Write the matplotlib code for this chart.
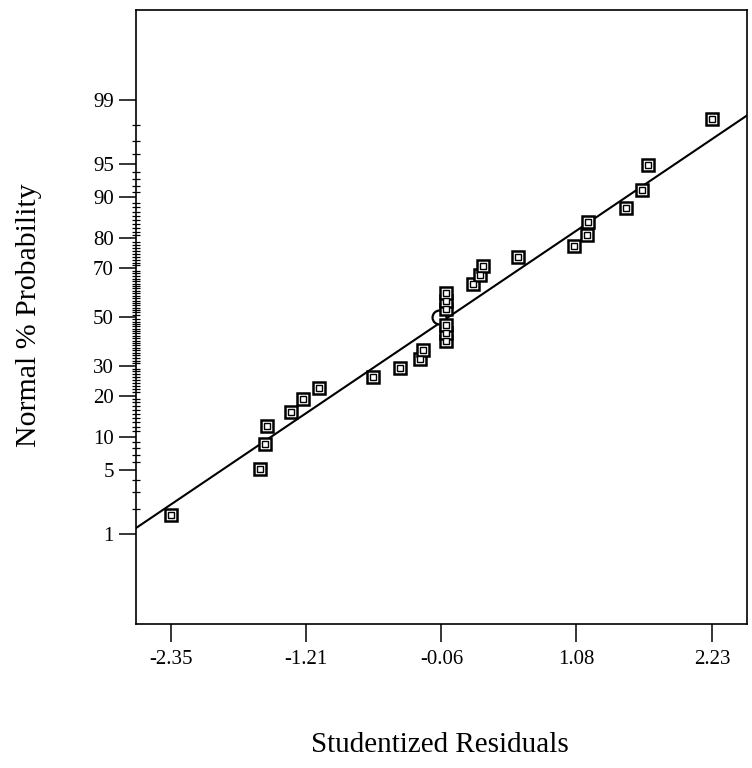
import matplotlib
matplotlib.use("Agg")
import matplotlib.pyplot as plt
import numpy as np
from statistics import NormalDist

plt.rcParams['font.family'] = ['Liberation Serif', 'DejaVu Serif']

# studentized residuals (sorted)
residuals = [-2.35, -1.60, -1.55, -1.54, -1.33, -1.23, -1.10, -0.64, -0.41,
             -0.24, -0.22, -0.02, -0.02, -0.02, -0.08, -0.02, -0.02, -0.02,
             0.21, 0.27, 0.29, 0.59, 1.06, 1.17, 1.18, 1.50, 1.64, 1.69, 2.23]
# normal % probability of each point
probs = [1.7, 5.2, 8.6, 12.1, 15.5, 19.0, 22.4, 25.9, 29.3, 32.8, 36.2,
         39.7, 43.1, 46.6, 50.0, 53.4, 56.9, 60.3, 63.8, 67.2, 70.7, 74.1,
         77.6, 81.0, 84.5, 87.9, 91.4, 94.8, 98.3]
# marker type per point: 's' square, 'o' circle
kinds = ['s'] * 14 + ['o'] + ['s'] * 14

x_ticks = [-2.35, -1.21, -0.06, 1.08, 2.23]
y_ticks = [1, 5, 10, 20, 30, 50, 70, 80, 90, 95, 99]

# fitted normal line
line_mean = 0.0
line_sd = 1.17

nd = NormalDist()
def probit(p):
    return nd.inv_cdf(p / 100.0)

fig = plt.figure(figsize=(7.52, 7.68), dpi=100)
ax = fig.add_axes([0.1809, 0.1875, 0.8125, 0.7995])

xmin, xmax = -2.646, 2.527
ax.set_xlim(xmin, xmax)
ax.set_ylim(-3.29, 3.29)

# fit line
xl = np.array([xmin, xmax])
ax.plot(xl, (xl - line_mean) / line_sd, color='black', lw=1.5, zorder=2)

# points
for r, p, k in zip(residuals, probs, kinds):
    z = probit(p)
    if k == 'o':
        ax.plot(r, z, 'o', ms=10, mfc='white', mec='black', mew=1.6, zorder=3)
    else:
        ax.plot(r, z, 's', ms=8.8, mfc='white', mec='black', mew=1.8, zorder=4)
        ax.plot(r, z, 's', ms=4.4, mfc='white', mec='black', mew=1.0, zorder=5)

# axes styling
for s in ax.spines.values():
    s.set_linewidth(1.2)

ax.set_xticks(x_ticks)
ax.set_xticklabels(['%.2f' % v for v in x_ticks])
ax.set_yticks([probit(p) for p in y_ticks])
ax.set_yticklabels([str(p) for p in y_ticks])
minor = [p for p in range(2, 99) if p not in y_ticks]
ax.set_yticks([probit(p) for p in minor], minor=True)

ax.tick_params(axis='x', direction='out', length=13, width=1.1, labelsize=15, pad=6)
ax.tick_params(axis='y', which='major', direction='out', length=12, width=1.1,
               labelsize=15, pad=4)
ax.tick_params(axis='y', which='minor', direction='inout', length=6, width=0.9)

fig.text(0.585, 0.030, 'Studentized Residuals', ha='center', va='center', fontsize=21)
fig.text(0.038, 0.59, 'Normal % Probability', ha='center', va='center',
         rotation=90, fontsize=21.5)

fig.savefig('out.png', dpi=100)
